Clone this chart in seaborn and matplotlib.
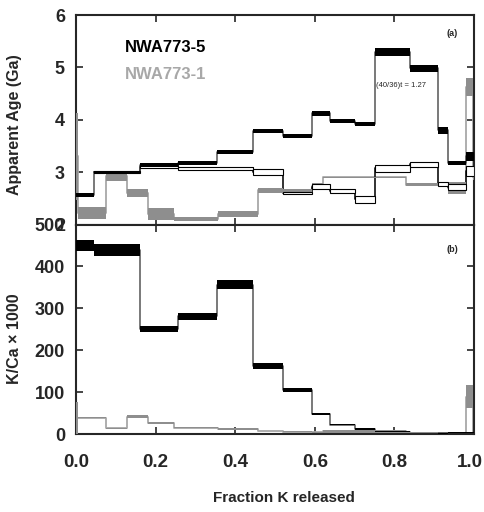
import numpy as np
import seaborn as sns
import matplotlib.pyplot as plt
import matplotlib.transforms as mtransforms

# NWA773-5 (black), step boundaries in cumulative fraction of K released
edges_5 = [0, 0.046, 0.16, 0.256, 0.355, 0.445, 0.52, 0.592, 0.638, 0.70,
           0.752, 0.839, 0.91, 0.935, 0.98, 1.0]
age_5 = [2.57, 3.0, 3.14, 3.18, 3.39, 3.78, 3.69, 4.12, 3.98, 3.92,
         5.29, 4.98, 3.80, 3.18, 3.30]
age_err_5 = [0.04, 0.03, 0.04, 0.04, 0.04, 0.04, 0.03, 0.04, 0.04, 0.04,
             0.08, 0.06, 0.07, 0.04, 0.08]
kca_5 = [450, 440, 250, 281, 357, 163, 106, 48, 23, 12, 6, 3, 2, 4, 4]
kca_err_5 = [14, 14, 7, 8, 11, 7, 4, 3, 2, 2, 1, 1, 1, 2, 2]

# NWA773-5 corrected ages, (40/36)t = 1.27 (thin line)
edges_c = [0.046, 0.16, 0.256, 0.445, 0.52, 0.592, 0.638, 0.70, 0.752,
           0.839, 0.91, 0.935, 0.98, 1.0]
age_c = [3.0, 3.1, 3.07, 3.0, 2.61, 2.72, 2.64, 2.48, 3.07, 3.15, 2.77, 2.72, 3.02]
age_err_c = [0.02, 0.03, 0.02, 0.06, 0.02, 0.05, 0.03, 0.06, 0.07, 0.05, 0.04, 0.06, 0.1]

# NWA773-1 (grey)
edges_1 = [0, 0.006, 0.076, 0.128, 0.18, 0.246, 0.357, 0.458, 0.52, 0.594,
           0.62, 0.83, 0.91, 0.935, 0.98, 0.997, 1.0]
age_1 = [3.3, 2.22, 2.93, 2.6, 2.2, 2.1, 2.2, 2.65, 2.62, 2.74,
         2.9, 2.76, 2.77, 2.7, 4.62, 2.9]
age_err_1 = [0.83, 0.11, 0.09, 0.08, 0.11, 0.04, 0.05, 0.05, 0.06, 0.05,
             0.015, 0.03, 0.04, 0.12, 0.17, 0.05]
kca_1 = [39, 40, 14, 42, 27, 16, 13, 8, 6, 5, 7, 4, 3, 3, 90, 3]
kca_err_1 = [39, 2, 2, 3, 2, 2, 2, 1, 1, 1, 3, 1, 1, 1, 28, 1]

x_ticks = [0.0, 0.2, 0.4, 0.6, 0.8, 1.0]
x_labels = ["0.0", "0.2", "0.4", "0.6", "0.8", "1.0"]
age_ticks = [2, 3, 4, 5, 6]
kca_ticks = [0, 100, 200, 300, 400, 500]

sns.set_style("ticks")
plt.rcParams["font.family"] = ["Liberation Sans Narrow", "Liberation Sans", "DejaVu Sans"]
plt.rcParams["font.weight"] = "bold"


def spectrum(ax, edges, vals, errs, box_face, box_edge, line_color, lw):
    x = np.array(edges)
    v = np.array(vals, dtype=float)
    e = np.array(errs, dtype=float)
    sns.lineplot(x=x, y=np.append(v, v[-1]), drawstyle="steps-post",
                 color=line_color, lw=lw, ax=ax, estimator=None, sort=False)
    ax.bar(x[:-1], 2 * e, width=np.diff(x), bottom=v - e, align="edge",
           facecolor=box_face, edgecolor=box_edge,
           linewidth=0.8 if box_edge != "none" else 0, zorder=3)


fig = plt.figure(figsize=(4.85, 5.12), dpi=100)
ax1 = fig.add_axes([76 / 485, 1 - 224.5 / 512, 398 / 485, 209.5 / 512])
ax2 = fig.add_axes([76 / 485, 1 - 434.3 / 512, 398 / 485, 209.8 / 512])

# (a) apparent ages
spectrum(ax1, edges_1, age_1, age_err_1, "#8e8e8e", "none", "#a8a8a8", 1.3)
spectrum(ax1, edges_c, age_c, age_err_c, "white", "black", "#222222", 1.3)
spectrum(ax1, edges_5, age_5, age_err_5, "black", "none", "#555555", 1.1)

# (b) K/Ca
spectrum(ax2, edges_1, kca_1, kca_err_1, "#8e8e8e", "none", "#a8a8a8", 1.3)
spectrum(ax2, edges_5, kca_5, kca_err_5, "black", "none", "#555555", 1.1)

for ax in (ax1, ax2):
    ax.set_xlim(0, 1)
    ax.set_xticks(x_ticks)
    ax.tick_params(direction="in", top=True, right=True, length=5, width=1.2)
    ax.set_xlabel("")
    for s in ax.spines.values():
        s.set_linewidth(1.5)

ax1.set_ylim(2, 6)
ax1.set_yticks(age_ticks)
ax1.set_xticklabels([])
ax1.tick_params(axis="y", labelsize=13, pad=8)
ax1.set_ylabel("Apparent Age (Ga)", family="Liberation Sans", fontsize=11.5, fontweight="bold")
ax1.yaxis.set_label_coords(-54 / 398, 0.475)

ax2.set_ylim(0, 500)
ax2.set_yticks(kca_ticks)
ax2.set_xticklabels(x_labels)
ax2.tick_params(axis="y", labelsize=13, pad=8)
ax2.tick_params(axis="x", labelsize=13.5, pad=14)
ax2.set_ylabel("K/Ca × 1000", family="Liberation Sans", fontsize=11.5, fontweight="bold")
ax2.yaxis.set_label_coords(-54 / 398, 0.454)
# nudge the last tick label so it stays inside the figure
last = ax2.get_xticklabels()[-1]
last.set_transform(last.get_transform() +
                   mtransforms.ScaledTranslation(-4 / 100, 0, fig.dpi_scale_trans))

ax1.text(0.123, 0.847, "NWA773-5", transform=ax1.transAxes, fontsize=12,
         color="black", va="center")
ax1.text(0.123, 0.714, "NWA773-1", transform=ax1.transAxes, fontsize=12,
         color="#a8a8a8", va="center")
ax1.text(0.93, 0.91, "(a)", transform=ax1.transAxes, fontsize=6.5, va="center")
ax2.text(0.93, 0.88, "(b)", transform=ax2.transAxes, fontsize=6.5, va="center")
ax1.text(0.755, 0.665, "(40/36)t = 1.27", transform=ax1.transAxes, fontsize=5.5,
         fontweight="normal", va="center")

fig.text(284 / 485, 1 - 498 / 512, "Fraction K released", ha="center", va="center",
         fontsize=11)

plt.savefig("out.png", dpi=100)
